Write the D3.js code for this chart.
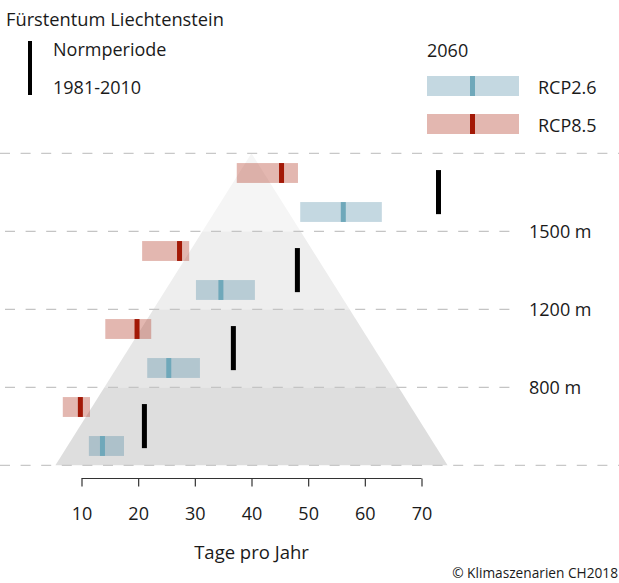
<!DOCTYPE html>
<html>
<head>
<meta charset="utf-8">
<script src="https://cdn.jsdelivr.net/npm/d3@7"></script>
<style>
  body { margin: 0; background: #fff; }
  text { font-family: "Open Sans", sans-serif; fill: #1a1a1a; }
</style>
</head>
<body>
<div id="chart"></div>
<script>
// elevation boundaries, top to bottom (empty = unlabeled)
const levelLabels = ["", "1500 m", "1200 m", "800 m", ""];
// one entry per band, top band first
const rcp85Low  = [37.4, 20.7, 14.2, 6.7];
const rcp85High = [48.2, 29.0, 22.3, 11.5];
const rcp85Med  = [45.3, 27.3, 19.8, 9.8];
const rcp26Low  = [48.6, 30.2, 21.6, 11.3];
const rcp26High = [63.0, 40.6, 30.9, 17.5];
const rcp26Med  = [56.2, 34.6, 25.4, 13.7];
const normValues = [73.0, 48.1, 36.8, 21.1];
const xTicks = [10, 20, 30, 40, 50, 60, 70];
// mountain shape: apex and base corners in days
const mountainApex = 40, mountainLeft = 5.4, mountainRight = 74.6;
const bandGrays = ["#f5f5f5", "#eeeeee", "#e6e6e6", "#dedede"];

const width = 619, height = 583;
const redFill = "#b0301c", redMed = "#a31806";
const blueFill = "#3a7f9a", blueMed = "#6fa8ba";

const svg = d3.select("#chart").append("svg")
    .attr("width", width)
    .attr("height", height);

const x = d3.scaleLinear().domain([10, 70]).range([81.5, 421.5]);
const y = d3.scaleLinear().domain([0, 4]).range([153.3, 465.3]);
const bandH = y(1) - y(0);

// mountain, drawn band by band
const edgeAt = (t, side) => {
    // t: 0 at apex, 4 at base
    const base = side < 0 ? mountainLeft : mountainRight;
    return mountainApex + (base - mountainApex) * t / 4;
};
bandGrays.forEach((c, i) => {
    const pts = [
        [x(edgeAt(i, -1)), y(i)],
        [x(edgeAt(i, 1)), y(i)],
        [x(edgeAt(i + 1, 1)), y(i + 1)],
        [x(edgeAt(i + 1, -1)), y(i + 1)]
    ];
    svg.append("polygon")
        .attr("points", pts.map(p => p.join(",")).join(" "))
        .attr("fill", c);
});

// dashed elevation lines
levelLabels.forEach((lab, i) => {
    const outer = i === 0 || i === levelLabels.length - 1;
    svg.append("line")
        .attr("x1", outer ? 0 : 5)
        .attr("x2", outer ? width : 514)
        .attr("y1", y(i)).attr("y2", y(i))
        .attr("stroke", outer ? "#c8c8c8" : "#c4c4c4")
        .attr("stroke-width", 1.3)
        .attr("stroke-dasharray", "10,10.6");
    if (lab) {
        svg.append("text")
            .attr("x", 529)
            .attr("y", y(i))
            .attr("dy", "0.37em")
            .attr("font-size", "18px")
            .text(lab);
    }
});

const bands = d3.range(4);

// RCP8.5 ranges
svg.selectAll(".r85").data(bands).enter().append("rect")
    .attr("x", i => x(rcp85Low[i]))
    .attr("width", i => x(rcp85High[i]) - x(rcp85Low[i]))
    .attr("y", i => y(i) + bandH * 0.125)
    .attr("height", bandH * 0.255)
    .attr("fill", redFill).attr("fill-opacity", 0.35);
svg.selectAll(".r85m").data(bands).enter().append("rect")
    .attr("x", i => x(rcp85Med[i]) - 2.5)
    .attr("width", 5)
    .attr("y", i => y(i) + bandH * 0.125)
    .attr("height", bandH * 0.255)
    .attr("fill", redMed);

// RCP2.6 ranges
svg.selectAll(".r26").data(bands).enter().append("rect")
    .attr("x", i => x(rcp26Low[i]))
    .attr("width", i => x(rcp26High[i]) - x(rcp26Low[i]))
    .attr("y", i => y(i) + bandH * 0.625)
    .attr("height", bandH * 0.255)
    .attr("fill", blueFill).attr("fill-opacity", 0.3);
svg.selectAll(".r26m").data(bands).enter().append("rect")
    .attr("x", i => x(rcp26Med[i]) - 2.5)
    .attr("width", 5)
    .attr("y", i => y(i) + bandH * 0.625)
    .attr("height", bandH * 0.255)
    .attr("fill", blueMed);

// Normperiode
svg.selectAll(".norm").data(bands).enter().append("rect")
    .attr("x", i => x(normValues[i]) - 2.5)
    .attr("width", 5)
    .attr("y", i => y(i) + bandH * 0.215)
    .attr("height", bandH * 0.565)
    .attr("fill", "#000");

// x axis
const axis = svg.append("g")
    .attr("transform", "translate(0,478.5)")
    .call(d3.axisBottom(x).tickValues(xTicks).tickSize(8).tickSizeOuter(0).tickPadding(21));
axis.select(".domain").attr("stroke", "#333").attr("stroke-width", 1.2)
    .attr("d", `M${x(10)},0H${x(70)}`);
axis.selectAll(".tick line").attr("stroke", "#333").attr("stroke-width", 1.2);
axis.selectAll(".tick text")
    .attr("font-family", "Open Sans, sans-serif")
    .attr("font-size", "18px")
    .attr("fill", "#1a1a1a");

svg.append("text")
    .attr("x", x(40)).attr("y", 559)
    .attr("text-anchor", "middle")
    .attr("font-size", "18.5px")
    .text("Tage pro Jahr");

svg.append("text")
    .attr("x", 618).attr("y", 578)
    .attr("text-anchor", "end")
    .attr("font-size", "13.7px")
    .text("© Klimaszenarien CH2018");

// title and legend
svg.append("text")
    .attr("x", 6).attr("y", 26)
    .attr("font-size", "18.3px")
    .text("Fürstentum Liechtenstein");

svg.append("rect")
    .attr("x", 28).attr("y", 41).attr("width", 4).attr("height", 54)
    .attr("fill", "#000");
svg.append("text").attr("x", 53).attr("y", 56).attr("font-size", "18px").text("Normperiode");
svg.append("text").attr("x", 53).attr("y", 94).attr("font-size", "18px").text("1981-2010");

svg.append("text").attr("x", 427).attr("y", 56.5).attr("font-size", "18px").text("2060");

const legendItems = [
    { label: "RCP2.6", fill: blueFill, op: 0.3, med: blueMed, y: 76 },
    { label: "RCP8.5", fill: redFill, op: 0.35, med: redMed, y: 114 }
];
legendItems.forEach(d => {
    svg.append("rect")
        .attr("x", 427).attr("y", d.y).attr("width", 92).attr("height", 20)
        .attr("fill", d.fill).attr("fill-opacity", d.op);
    svg.append("rect")
        .attr("x", 470).attr("y", d.y).attr("width", 5).attr("height", 20)
        .attr("fill", d.med);
    svg.append("text")
        .attr("x", 538).attr("y", d.y + 17.5)
        .attr("font-size", "18px")
        .text(d.label);
});
</script>
</body>
</html>
